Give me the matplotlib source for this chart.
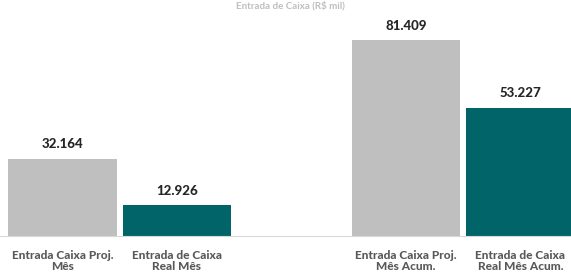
import matplotlib
matplotlib.use("Agg")
import matplotlib.pyplot as plt

categories = ["Entrada Caixa Proj.\nMês", "Entrada de Caixa\nReal Mês",
              "Entrada Caixa Proj.\nMês Acum.", "Entrada de Caixa\nReal Mês Acum."]
values = [32164, 12926, 81409, 53227]
labels = ["32.164", "12.926", "81.409", "53.227"]
positions = [0, 1, 3, 4]
colors = ["#bfbfbf", "#006468", "#bfbfbf", "#006468"]
title = "Entrada de Caixa (R$ mil)"

plt.rcParams['font.family'] = ['Lato', 'DejaVu Sans']

fig = plt.figure(figsize=(5.71, 2.75), dpi=100)
ax = fig.add_axes([0, 1 - 236/275, 1, 236/275])
ax.bar(positions, values, width=0.95, color=colors)
for p, v, l in zip(positions, values, labels):
    ax.annotate(l, (p, v), xytext=(0, 6), textcoords="offset points",
                ha="center", va="bottom", fontsize=9.5, fontweight="black", color="#262626")
ax.set_xlim(-0.545, 4.442)
ax.set_ylim(0, 98000)
ax.set_xticks(positions)
ax.set_xticklabels(categories, fontsize=8.6, fontweight="black", color="#595959",
                   linespacing=1.05)
ax.tick_params(axis="x", length=0, pad=10)
ax.set_yticks([])
for s in ["top", "right", "left"]:
    ax.spines[s].set_visible(False)
ax.spines["bottom"].set_color("#d9d9d9")
ax.spines["bottom"].set_linewidth(0.8)
fig.text(290/571, 1 - 1/275, title, ha="center", va="top", fontsize=7,
         fontweight="bold", color="#bfbfbf")
fig.savefig("out.png", dpi=100)
